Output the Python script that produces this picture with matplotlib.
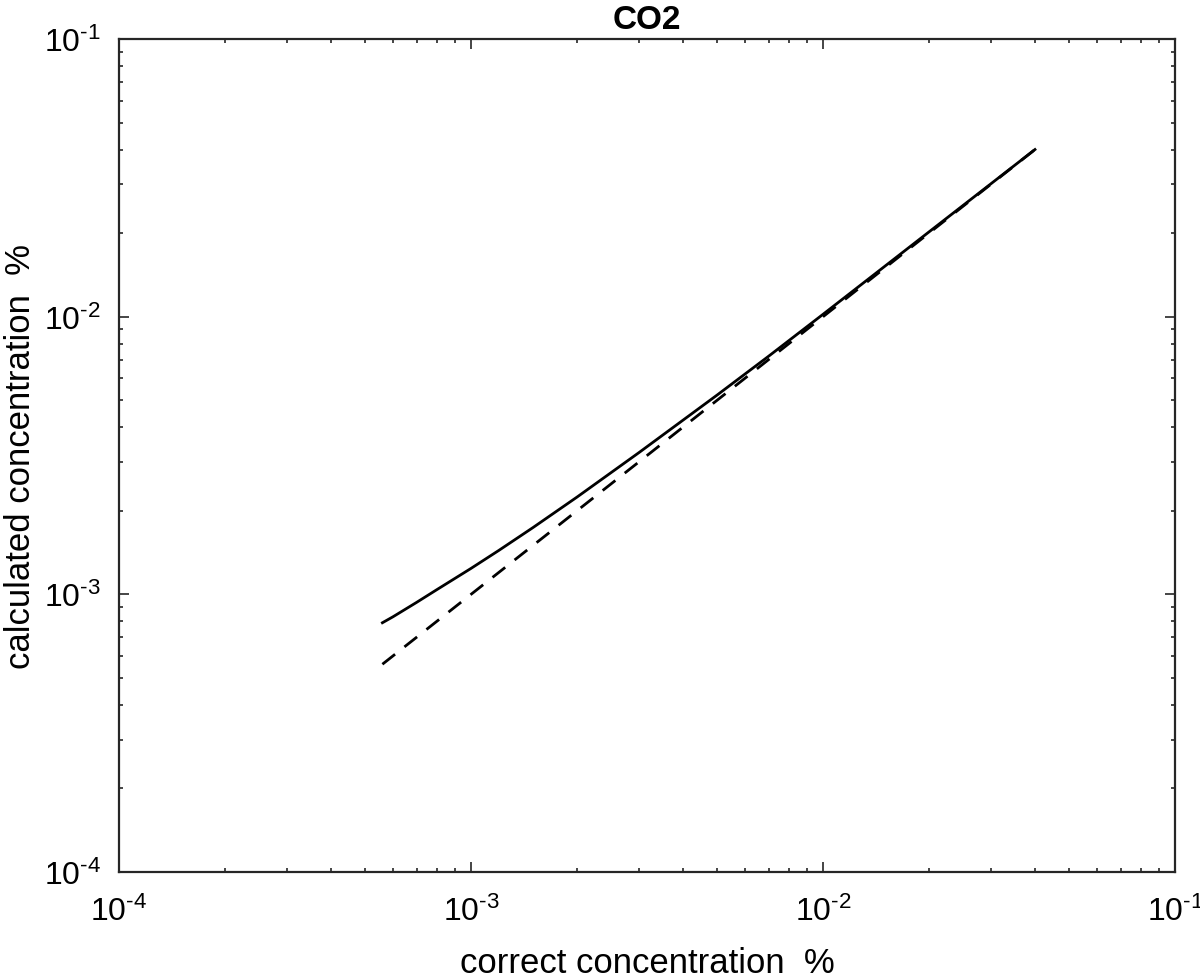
import matplotlib
matplotlib.use("Agg")
import matplotlib.pyplot as plt
from matplotlib.ticker import LogLocator, FuncFormatter, NullFormatter
import numpy as np

plt.rcParams['font.family'] = ['Liberation Sans', 'DejaVu Sans']
plt.rcParams['mathtext.fontset'] = 'custom'
plt.rcParams['mathtext.rm'] = 'Liberation Sans'
plt.rcParams['mathtext.it'] = 'Liberation Sans:italic'
plt.rcParams['mathtext.bf'] = 'Liberation Sans:bold'

# 读图得到的数据
x_calc = [5.6e-4, 6.0e-4, 7.0e-4, 8.0e-4, 1.0e-3, 1.2e-3, 1.5e-3, 2.0e-3,
          3.0e-3, 5.0e-3, 7.0e-3, 1.0e-2, 2.0e-2, 4.0e-2]
y_calc = [7.9e-4, 8.3e-4, 9.35e-4, 1.04e-3, 1.24e-3, 1.44e-3, 1.74e-3, 2.24e-3,
          3.24e-3, 5.22e-3, 7.2e-3, 1.02e-2, 2.02e-2, 4.0e-2]
x_ref = [5.6e-4, 4.0e-2]
y_ref = [5.6e-4, 4.0e-2]

title = "CO2"
xlabel = "correct concentration  %"
ylabel = "calculated concentration  %"


def pow10_label(v, pos):
    # MATLAB 风格：上标用短横线
    n = int(round(np.log10(v)))
    if n < 0:
        return r"$\mathdefault{10^{\text{-}%d}}$" % (-n)
    return r"$\mathdefault{10^{%d}}$" % n


fig = plt.figure(figsize=(12, 9.79), dpi=100)
ax = fig.add_axes([0.0992, 0.1083, 0.8800, 0.8508])

ax.plot(x_ref, y_ref, color='black', linewidth=2.0, linestyle=(0, (5.8, 4.3)))
ax.plot(x_calc, y_calc, color='black', linewidth=2.0, linestyle='-')

ax.set_xscale('log')
ax.set_yscale('log')
ax.set_xlim(1e-4, 1e-1)
ax.set_ylim(1e-4, 1e-1)

for a in (ax.xaxis, ax.yaxis):
    a.set_major_locator(LogLocator(base=10, numticks=10))
    a.set_major_formatter(FuncFormatter(pow10_label))
    a.set_minor_locator(LogLocator(base=10, subs=range(2, 10), numticks=10))
    a.set_minor_formatter(NullFormatter())

ax.tick_params(which='both', direction='in', top=True, right=True,
               colors='#262626', labelcolor='black', labelsize=23)
ax.tick_params(which='major', length=7.5, width=1.2)
ax.tick_params(which='minor', length=3, width=1.2)
ax.tick_params(axis='x', which='major', pad=17)
ax.tick_params(axis='y', which='major', pad=13)
for s in ax.spines.values():
    s.set_linewidth(1.6)
    s.set_color('#262626')

ax.set_title(title, fontsize=24, fontweight='bold', pad=8)
ax.set_xlabel(xlabel, fontsize=25, labelpad=14)
ax.set_ylabel(ylabel, fontsize=25, labelpad=5)

fig.savefig("out.png", dpi=100)
